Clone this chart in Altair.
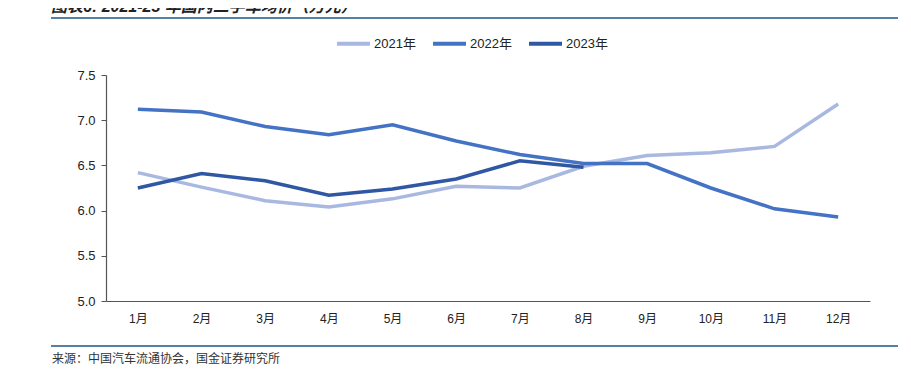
import altair as alt
import pandas as pd

months = ["1月", "2月", "3月", "4月", "5月", "6月", "7月", "8月", "9月", "10月", "11月", "12月"]
series_names = ["2021年", "2022年", "2023年"]
v2021 = [6.42, 6.26, 6.11, 6.04, 6.13, 6.27, 6.25, 6.49, 6.61, 6.64, 6.71, 7.18]
v2022 = [7.12, 7.09, 6.93, 6.84, 6.95, 6.77, 6.62, 6.52, 6.52, 6.25, 6.02, 5.93]
v2023 = [6.25, 6.41, 6.33, 6.17, 6.24, 6.35, 6.55, 6.48]
colors = ["#a9b8e0", "#4472c4", "#2f57a3"]
y_ticks = [5.0, 5.5, 6.0, 6.5, 7.0, 7.5]

title_text = "图表6: 2021-23 年国内二手车均价（万元）"
source_text = "来源：中国汽车流通协会，国金证券研究所"

rows = []
for name, vals in zip(series_names, [v2021, v2022, v2023]):
    for m, v in zip(months, vals):
        rows.append({"年份": name, "月份": m, "均价": v})
df = pd.DataFrame(rows)

W, H = 764, 226
FONT = "Liberation Sans, Noto Sans CJK SC, sans-serif"

lines = alt.Chart(df).mark_line(strokeWidth=3.5).encode(
    x=alt.X("月份:N", sort=months, title=None,
            axis=alt.Axis(labelAngle=0, ticks=False, labelPadding=12, labelFontSize=12,
                          labelColor="#222", domainColor="#555", domainWidth=1.2,
                          labelFont=FONT)),
    y=alt.Y("均价:Q", title=None,
            scale=alt.Scale(domain=[5.0, 7.5], nice=False, zero=False),
            axis=alt.Axis(values=y_ticks, format=".1f", grid=False, tickSize=5,
                          tickColor="#555", domainColor="#555", domainWidth=1.2,
                          labelPadding=6, labelFontSize=13, labelColor="#222",
                          labelFont=FONT)),
    color=alt.Color("年份:N", scale=alt.Scale(domain=series_names, range=colors),
                    legend=alt.Legend(title=None, orient="none", direction="horizontal",
                                      legendX=229, legendY=-50, symbolType="stroke",
                                      symbolSize=1089, symbolStrokeWidth=4,
                                      labelFontSize=13, labelColor="#222", labelFont=FONT,
                                      columnPadding=9, labelOffset=2)),
)

one = pd.DataFrame({"k": [0]})

top_rule = alt.Chart(one).mark_rule(color="#1f5582", strokeWidth=1.5).encode(
    x=alt.value(-55), x2=alt.value(792), y=alt.value(-57))
bottom_rule = alt.Chart(one).mark_rule(color="#1f5582", strokeWidth=1.5).encode(
    x=alt.value(-55), x2=alt.value(792), y=alt.value(271))
title = alt.Chart(one).mark_text(align="left", baseline="middle", fontSize=16,
                                 fontStyle="italic", fontWeight="bold", color="#222",
                                 font=FONT).encode(
    x=alt.value(-55), y=alt.value(-68), text=alt.value(title_text))
source = alt.Chart(one).mark_text(align="left", baseline="middle", fontSize=12,
                                  color="#333", font="Noto Sans CJK SC").encode(
    x=alt.value(-54), y=alt.value(284), text=alt.value(source_text))

chart = alt.layer(lines, top_rule, bottom_rule, title, source).properties(
    width=W, height=H,
    autosize=alt.AutoSizeParams(type="none"),
    padding={"left": 98, "top": 67, "right": 30, "bottom": 70},
).configure_view(stroke=None)

chart.save("out.html", embed_options={"renderer": "svg", "actions": False})
